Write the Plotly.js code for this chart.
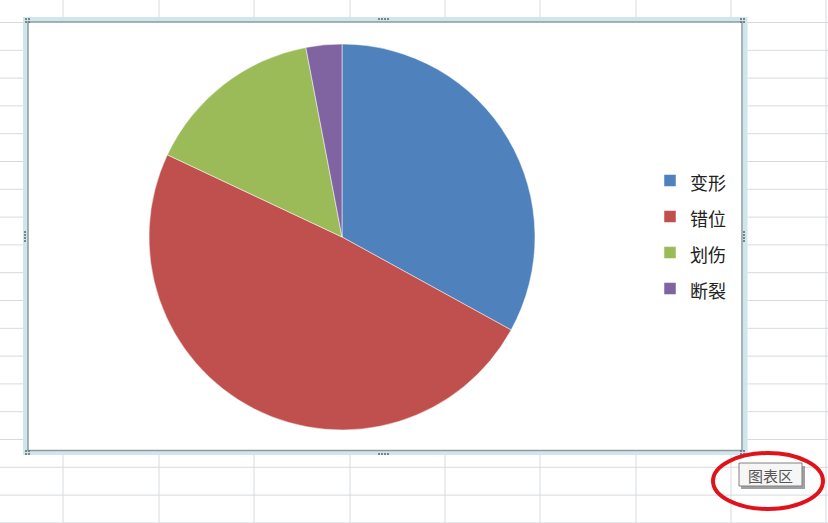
<!DOCTYPE html>
<html><head><meta charset="utf-8">
<script src="https://cdn.plot.ly/plotly-3.0.1.min.js"></script>
<style>html,body{margin:0;padding:0;background:#fff;overflow:hidden}#chart{width:828px;height:523px;}</style>
</head><body><div id="chart"></div>
<script>
const categories = ['变形', '错位', '划伤', '断裂'];
const values = [33, 49, 15, 3];
const colors = ['#4F81BD', '#C0504D', '#9BBB59', '#8064A2'];
const tooltipLabel = '图表区';

const W = 828, H = 523;
const px = x => x / W, py = y => 1 - y / H;
const shapes = [];
const gridColor = '#d6dadf';
const colX = [63, 159, 254, 350, 445, 540, 636, 731, 826];
colX.forEach(x => shapes.push({type:'line', xref:'paper', yref:'paper', x0:px(x), x1:px(x), y0:0, y1:1, line:{color:gridColor, width:1}, layer:'below'}));
for (let k = 0; k < 19; k++) {
  const y = 22.5 + 27.8 * k;
  shapes.push({type:'line', xref:'paper', yref:'paper', x0:0, x1:1, y0:py(y), y1:py(y), line:{color:gridColor, width:1}, layer:'below'});
}
// chart selection frame
shapes.push({type:'rect', xref:'paper', yref:'paper', x0:px(25.5), x1:px(745), y0:py(19.5), y1:py(452.5), line:{color:'#cfe6ec', width:5}, fillcolor:'#ffffff', layer:'below'});
shapes.push({type:'rect', xref:'paper', yref:'paper', x0:px(28), x1:px(742), y0:py(22), y1:py(450.5), line:{color:'#8e9a9f', width:1.5}, fillcolor:'#ffffff', layer:'below'});
// handles
function dot(x, y) {
  shapes.push({type:'rect', xref:'paper', yref:'paper', x0:px(x - 0.9), x1:px(x + 0.9), y0:py(y - 0.9), y1:py(y + 0.9), line:{width:0}, fillcolor:'#6f7a7e', layer:'above'});
}
[[26, 19], [741, 19], [26, 451], [741, 451]].forEach(([x, y]) => { dot(x, y); dot(x + 3, y); dot(x, y + 3); dot(x + 3, y + 3); });
[0, 1, 2, 3].forEach(i => { dot(379 + i * 3, 19); dot(379 + i * 3, 454); dot(25, 232 + i * 3); dot(744, 232 + i * 3); });
// tooltip with red ellipse
shapes.push({type:'rect', xref:'paper', yref:'paper', x0:px(741), x1:px(805), y0:py(466), y1:py(489), line:{width:0}, fillcolor:'#a0a0a0', layer:'above'});
shapes.push({type:'rect', xref:'paper', yref:'paper', x0:px(739), x1:px(802), y0:py(463), y1:py(486), line:{color:'#808080', width:1}, fillcolor:'#f6f6f6', layer:'above'});
shapes.push({type:'circle', xref:'paper', yref:'paper', x0:px(713), x1:px(823), y0:py(453), y1:py(509), line:{color:'#e0131a', width:4}, layer:'above'});

const data = [{
  type: 'pie',
  labels: categories.map(c => '<span style="font-size:18px">' + c + '</span>'),
  values: values,
  marker: {colors: colors, line: {color: '#ffffff', width: 0.5}},
  sort: false,
  direction: 'clockwise',
  rotation: 0,
  textinfo: 'none',
  hoverinfo: 'none',
  automargin: false,
  domain: {x: [px(149), px(535)], y: [py(430), py(44)]}
}];

const layout = {
  width: W, height: H,
  margin: {l:0, r:0, t:0, b:0},
  paper_bgcolor: '#ffffff',
  font: {family: '"Noto Sans CJK SC", sans-serif', color: '#222'},
  showlegend: true,
  legend: {x: px(650), xanchor: 'left', y: py(157.5), yanchor: 'top', bgcolor: 'rgba(0,0,0,0)', font: {size: 25.4, color: '#222'}},
  shapes: shapes,
  annotations: [{xref:'paper', yref:'paper', x:px(770.5), y:py(475), text: tooltipLabel, showarrow:false, font:{size:15, color:'#555', family:'"Noto Sans CJK SC", sans-serif'}, xanchor:'center', yanchor:'middle'}]
};

Plotly.newPlot('chart', data, layout, {displayModeBar: false, staticPlot: true});
</script></body></html>
